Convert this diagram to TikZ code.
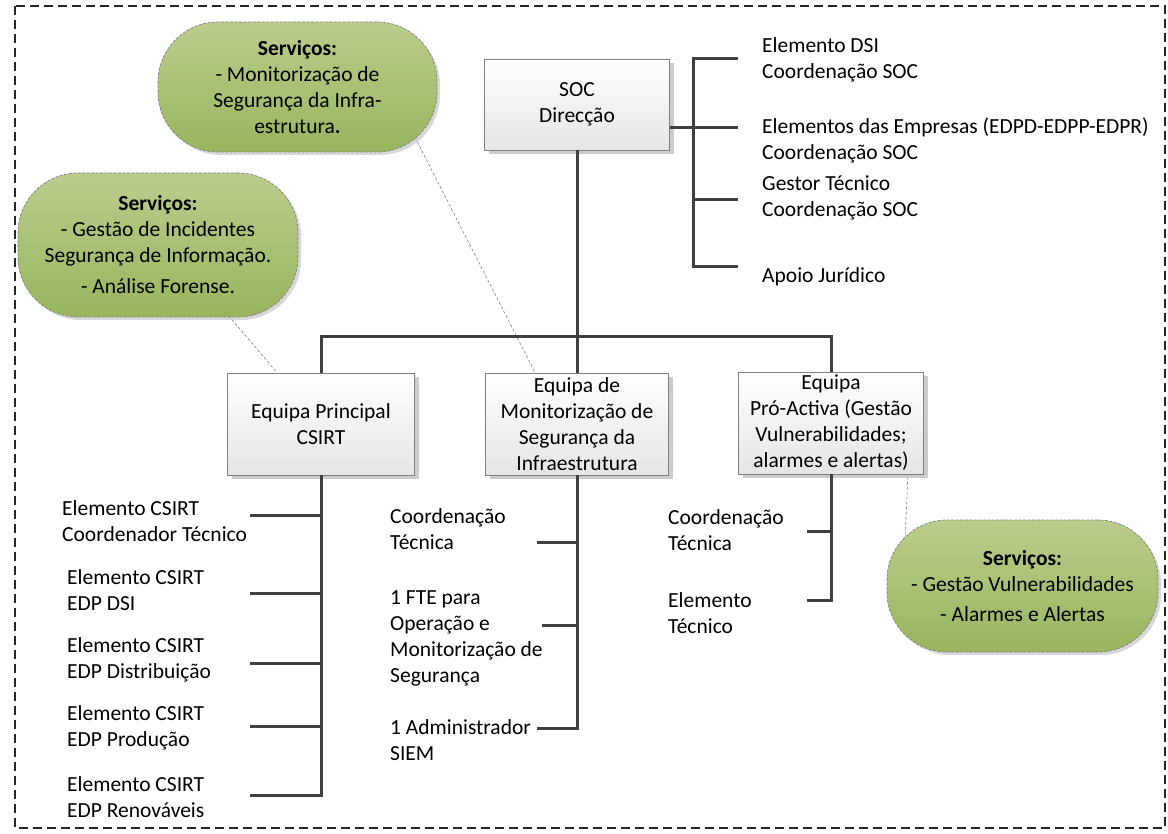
\documentclass[tikz,border=0pt]{standalone}
\usepackage{fontspec}
\setmainfont{Carlito}
\usetikzlibrary{positioning,shadows}

\definecolor{linegray}{RGB}{64,64,64}
\definecolor{boxgray}{RGB}{128,128,128}
\definecolor{olivetop}{RGB}{186,205,140}
\definecolor{olivebot}{RGB}{152,181,94}

\pgfdeclarelayer{background}
\pgfsetlayers{background,main}

\begin{document}
\begin{tikzpicture}[
    x=1pt, y=-1pt,
    every node/.style={font=\fontsize{21.5}{26}\selectfont},
    unit/.style={rectangle, draw=boxgray, line width=0.8pt, top color=white, bottom color=black!10, align=center, inner sep=2pt,
        drop shadow={shadow xshift=4pt, shadow yshift=-4pt, fill=black!20, opacity=1}},
    service/.style={rectangle, rounded corners=60pt, draw=boxgray, line width=0.7pt, dash pattern=on 3pt off 1.5pt,
        top color=olivetop, bottom color=olivebot, align=center, inner sep=2pt,
        drop shadow={shadow xshift=3pt, shadow yshift=-3pt, fill=black!30, opacity=0.5}},
    member/.style={anchor=west, align=left, inner sep=0pt},
    conn/.style={draw=linegray, line width=3pt},
    leader/.style={draw=gray, line width=0.6pt, dash pattern=on 3pt off 2pt},
    frame/.style={draw=black!85, line width=1.6pt, dash pattern=on 9pt off 5pt},
]
\useasboundingbox (0,0) rectangle (1168,834);

% units
\node[unit, minimum width=185pt, minimum height=91pt] (soc) at (577,104.5) {SOC\\Direcção};
\node[unit, minimum width=187pt, minimum height=102pt] (csirt) at (321,424) {Equipa Principal\\CSIRT};
\node[unit, minimum width=183pt, minimum height=102pt] (monit) at (577,424)
    {Equipa de\\Monitorização de\\Segurança da\\Infraestrutura};
\node[unit, minimum width=185pt, minimum height=102pt] (proact) at (831,423)
    {Equipa\\Pró-Activa (Gestão\\Vulnerabilidades;\\alarmes e alertas)};

% services
\node[service, minimum width=279pt, minimum height=130pt] (c1) at (297.5,87)
    {\textbf{Serviços:}\\- Monitorização de\\Segurança da Infra-\\estrutura\textbf{.}};
\node[service, minimum width=280pt, minimum height=144pt] (c2) at (158,245)
    {\textbf{Serviços:}\\- Gestão de Incidentes\\Segurança de Informação.\\[5pt]- Análise Forense.};
\node[service, minimum width=271pt, minimum height=132pt] (c3) at (1022.5,586)
    {\textbf{Serviços:}\\- Gestão Vulnerabilidades\\[4pt]- Alarmes e Alertas};

% direction members
\node[member] (r1) at (762,60) {Elemento DSI\\Coordenação SOC};
\node[member] (r2) at (762,140) {Elementos das Empresas (EDPD-EDPP-EDPR)\\Coordenação SOC};
\node[member] (r3) at (762,198) {Gestor Técnico\\Coordenação SOC};
\node[member] (r4) at (762,277) {Apoio Jurídico};

% csirt members
\node[member] (k1) at (62,521) {Elemento CSIRT\\Coordenador Técnico};
\node[member] (k2) at (67,590) {Elemento CSIRT\\EDP DSI};
\node[member] (k3) at (67,660) {Elemento CSIRT\\EDP Distribuição};
\node[member] (k4) at (67,728) {Elemento CSIRT\\EDP Produção};
\node[member] (k5) at (67,797) {Elemento CSIRT\\EDP Renováveis};

% monitoring members
\node[member] (m1) at (390,529) {Coordenação\\Técnica};
\node[member] (m2) at (390,638) {1 FTE para\\Operação e\\Monitorização de\\Segurança};
\node[member] (m3) at (390,740) {1 Administrador\\SIEM};

% pro-active members
\node[member] (p1) at (668,530) {Coordenação\\Técnica};
\node[member] (p2) at (668,613) {Elemento\\Técnico};

% tick ends
\coordinate (bus) at (577,337);
\coordinate (spine) at (693,0);
\coordinate (s1) at (738,59);
\coordinate (s2) at (738,128);
\coordinate (s3) at (738,200);
\coordinate (s4) at (738,267);
\coordinate (ct1) at (250,515);
\coordinate (ct2) at (250,593);
\coordinate (ct3) at (250,663);
\coordinate (ct4) at (250,726);
\coordinate (ct5) at (250,795);
\coordinate (mt1) at (537,542);
\coordinate (mt2) at (542,625);
\coordinate (mt3) at (537,728);
\coordinate (pt1) at (807,531);
\coordinate (pt2) at (807,600);

% tree
\draw[conn] (soc.south) -- (bus);
\draw[conn] (csirt.north) |- (bus) -| (proact.north);
\draw[conn] (bus) -- (monit.north);
\draw[conn] (s1) -| (spine |- s4) -- (s4);
\draw[conn] (s2) -- (s2 -| soc.east);
\draw[conn] (s3) -- (s3 -| spine);
\draw[conn] (csirt.south) |- (ct5);
\draw[conn] (ct1) -- (ct1 -| csirt.south);
\draw[conn] (ct2) -- (ct2 -| csirt.south);
\draw[conn] (ct3) -- (ct3 -| csirt.south);
\draw[conn] (ct4) -- (ct4 -| csirt.south);
\draw[conn] (monit.south) |- (mt3);
\draw[conn] (mt1) -- (mt1 -| monit.south);
\draw[conn] (mt2) -- (mt2 -| monit.south);
\draw[conn] (proact.south) |- (pt2);
\draw[conn] (pt1) -- (pt1 -| proact.south);

\begin{pgfonlayer}{background}
\draw[frame] (15,6) rectangle (1165,828);
\draw[leader] ([shift={(-27,-24)}]c1.south east) -- ([xshift=50pt]monit.north west);
\draw[leader] ([shift={(-83,-17)}]c2.south east) -- ([xshift=50pt]csirt.north west);
\draw[leader] ([shift={(18,30)}]c3.north west) -- ([xshift=-16pt]proact.south east);
\end{pgfonlayer}
\end{tikzpicture}
\end{document}
